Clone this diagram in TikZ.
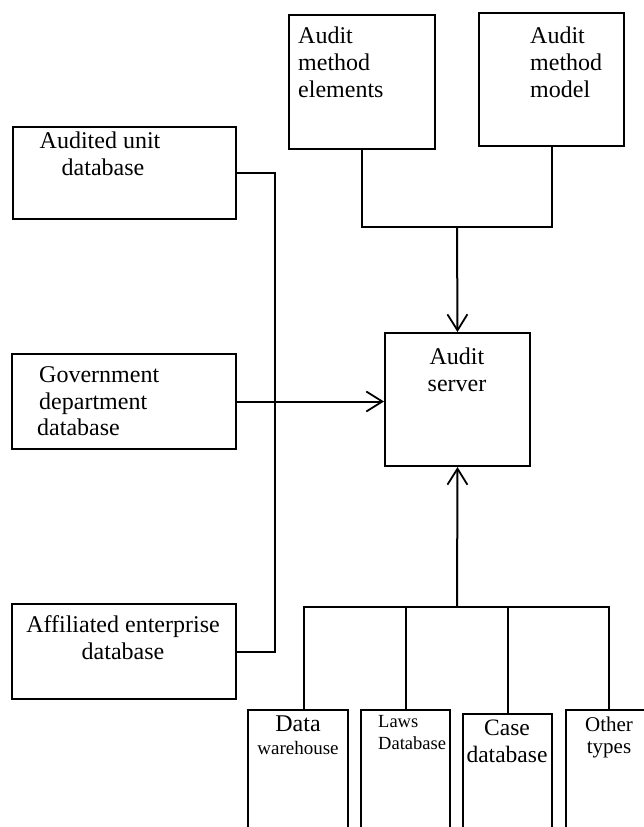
\documentclass[tikz,border=0pt]{standalone}
\usepackage{fontspec}
\setmainfont{Liberation Serif}
\usetikzlibrary{arrows.meta}

\begin{document}
\begin{tikzpicture}[x=1pt,y=-1pt,
  box/.style={draw,line width=2pt,inner sep=0,anchor=north west},
  txt/.style={inner sep=0,font=\fontsize{24}{27}\selectfont},
  link/.style={line width=2pt},
  arr/.style={line width=2pt,-{Straight Barb[length=16pt,width=20pt,line width=1.8pt]}}]
\useasboundingbox (0,0) rectangle (644,827);
\clip (0,0) rectangle (644,827);
% boxes
\node [box,minimum width=146pt,minimum height=134pt] (elem) at (288,14) {};
\node [box,minimum width=145pt,minimum height=133pt] (model) at (478,12) {};
\node [box,minimum width=223pt,minimum height=92pt] (unit) at (12,126) {};
\node [box,minimum width=224pt,minimum height=95pt] (gov) at (11,353) {};
\node [box,minimum width=224pt,minimum height=95pt] (aff) at (11,603) {};
\node [box,minimum width=145pt,minimum height=133pt] (server) at (384,332) {};
\node [box,minimum width=100pt,minimum height=140pt] (dw) at (247,709) {};
\node [box,minimum width=89pt,minimum height=140pt] (laws) at (360,709) {};
\node [box,minimum width=89pt,minimum height=140pt] (case) at (462,713) {};
\node [box,minimum width=86pt,minimum height=140pt] (other) at (565,709) {};
% texts
\node [txt,anchor=north west,align=left] (elemtxt) at (298,27) {Audit\\method\\elements};
\node [txt,anchor=north west,align=left] (modeltxt) at (530,27) {Audit\\method\\model};
\node [txt,anchor=north,align=center] (unittxt) at (100,132) {Audited unit\\\hspace*{6pt}database};
\node [txt,anchor=north west,align=left] (govtxt) at (39,366) {Government\\department\\[-1pt]\hspace*{-2pt}database};
\node [txt,anchor=north,align=center] (afftxt) at (123,615) {Affiliated enterprise\\database};
\node [txt,anchor=north,align=center] (servertxt) at (457,348) {Audit\\server};
\node [txt,anchor=north,align=center,font=\fontsize{19}{23}\selectfont] (dwtxt) at (298,716) {{\fontsize{24}{23}\selectfont Data}\\warehouse};
\node [txt,anchor=north west,align=left,font=\fontsize{18.5}{22}\selectfont] (lawstxt) at (378,715) {Laws\\Database};
\node [txt,anchor=north,align=center,font=\fontsize{23.5}{27}\selectfont] (casetxt) at (507,720) {Case\\database};
\node [txt,anchor=north,align=center,font=\fontsize{21}{22}\selectfont] (othertxt) at (609,717) {Other\\types};
% connectors
\coordinate (top) at (457,227);
\coordinate (bot) at (457,607);
\draw [link] (elem.south) |- (top) -| (model.south);
\draw [arr] (top) -- (server.north);
\draw [link] (unit.east) -| (275,400) |- (aff.east);
\draw [arr] (gov.east) -- (server.west |- gov.east);
\draw [arr] (bot) -- (server.south);
\draw [link] ([xshift=6pt]dw.north) |- (other.north |- bot) -- (other.north);
\draw [link] (laws.north) -- (laws.north |- bot);
\draw [link] (case.north) -- (case.north |- bot);
\end{tikzpicture}
\end{document}
